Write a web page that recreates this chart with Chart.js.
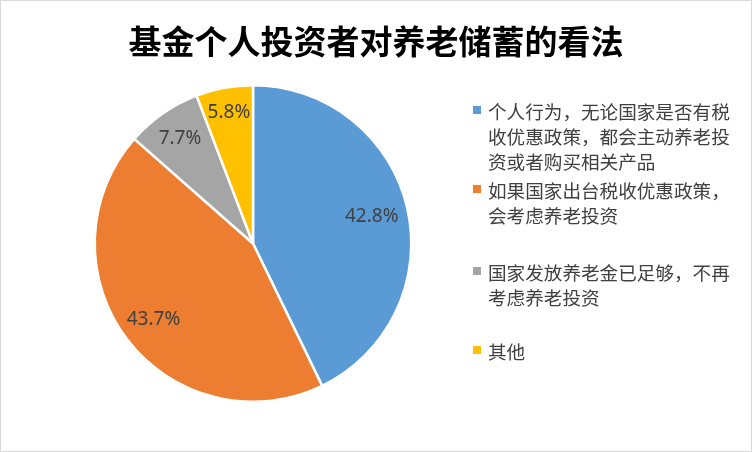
<!DOCTYPE html>
<html>
<head>
<meta charset="utf-8">
<script src="https://cdn.jsdelivr.net/npm/chart.js@4/dist/chart.umd.min.js"></script>
<style>
    body { margin: 0; background: #fff; }
    #wrap { position: relative; width: 752px; height: 452px; overflow: hidden; }
    #chart { position: absolute; left: 0; top: 0; }
    #frame { position: absolute; left: 0; top: 0; width: 752px; height: 452px; box-sizing: border-box; border: 1px solid #d9d9d9; pointer-events: none; }
    #title { position: absolute; left: 0; top: 20px; width: 752px; text-align: center; font: bold 33px "Noto Sans CJK SC", sans-serif; line-height: 40px; color: #000; }
    .lg-item { position: absolute; left: 473px; width: 270px; }
    .lg-box { position: absolute; left: 0; top: 8px; width: 8px; height: 8px; }
    .lg-text { position: absolute; left: 15px; top: 0; width: 248px; font: 18.6px "Noto Sans CJK SC", sans-serif; line-height: 25px; color: #404040; word-break: break-all; }
</style>
</head>
<body>
<div id="wrap">
    <canvas id="chart" width="752" height="452"></canvas>
    <div id="title"></div>
    <div id="legend"></div>
    <div id="frame"></div>
</div>
<script>
// Data
const chartTitle = '基金个人投资者对养老储蓄的看法';
const categories = [
    '个人行为，无论国家是否有税收优惠政策，都会主动养老投资或者购买相关产品',
    '如果国家出台税收优惠政策，会考虑养老投资',
    '国家发放养老金已足够，不再考虑养老投资',
    '其他'
];
const shares = [42.8, 43.7, 7.7, 5.8];
const sliceColors = ['#5B9BD5', '#ED7D31', '#A5A5A5', '#FFC000'];

// Legend / title as page text
document.getElementById('title').textContent = chartTitle;
const legendTops = [98, 177, 259, 338];
const legend = document.getElementById('legend');
categories.forEach((c, i) => {
    const item = document.createElement('div');
    item.className = 'lg-item';
    item.style.top = legendTops[i] + 'px';
    item.innerHTML = `<div class="lg-box" style="background:${sliceColors[i]}"></div><div class="lg-text"></div>`;
    item.querySelector('.lg-text').textContent = c;
    legend.appendChild(item);
});

// Percent labels inside slices
const sliceLabels = {
    id: 'sliceLabels',
    afterDatasetsDraw(chart, args, opts) {
        const { ctx } = chart;
        const meta = chart.getDatasetMeta(0);
        ctx.save();
        ctx.font = opts.font;
        ctx.fillStyle = opts.color;
        ctx.textAlign = 'center';
        ctx.textBaseline = 'middle';
        meta.data.forEach((arc, i) => {
            const { x, y, startAngle, endAngle, outerRadius } = arc.getProps(['x', 'y', 'startAngle', 'endAngle', 'outerRadius'], true);
            const mid = (startAngle + endAngle) / 2;
            const r = outerRadius * opts.radius[i];
            ctx.fillText(shares[i].toFixed(1) + '%', x + Math.cos(mid) * r, y + Math.sin(mid) * r);
        });
        ctx.restore();
    }
};

new Chart(document.getElementById('chart'), {
    type: 'pie',
    data: {
        labels: categories,
        datasets: [{
            data: shares,
            backgroundColor: sliceColors,
            borderColor: '#fff',
            borderWidth: 2.5,
            hoverOffset: 0
        }]
    },
    options: {
        responsive: false,
        animation: false,
        layout: { padding: { top: 84, bottom: 49, left: 93.5, right: 339.5 } },
        plugins: {
            legend: { display: false },
            title: { display: false },
            tooltip: { enabled: false },
            sliceLabels: {
                font: '19px "Noto Sans", sans-serif',
                color: '#404040',
                radius: [0.77, 0.79, 0.81, 0.84]
            }
        }
    },
    plugins: [sliceLabels]
});
</script>
</body>
</html>
